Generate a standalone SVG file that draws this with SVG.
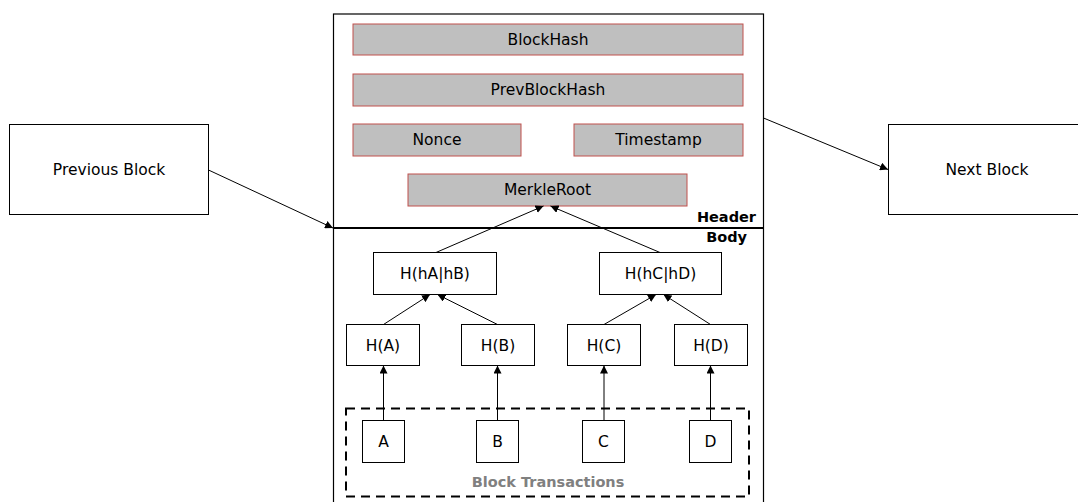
<svg xmlns="http://www.w3.org/2000/svg" width="1078" height="502" viewBox="0 0 1078 502">
<style>
.box{fill:#fff;stroke:#000;stroke-width:1}
.field{fill:#bfbfbf;stroke:#c0504d;stroke-width:1}
.t{font-family:"DejaVu Sans",Verdana,sans-serif;font-size:15.5px;fill:#000;text-anchor:middle}
.b{font-family:"DejaVu Sans",Verdana,sans-serif;font-size:14.5px;font-weight:bold;fill:#000}
.c{stroke:#000;stroke-width:1;fill:none;marker-end:url(#ah)}
</style>
<defs>
<marker id="ah" viewBox="0 0 10 10" refX="10" refY="5" markerWidth="8" markerHeight="8" markerUnits="userSpaceOnUse" orient="auto">
<path d="M0,0 L10,5 L0,10 z" fill="#000"/>
</marker>
</defs>
<rect width="1078" height="502" fill="#fff"/>
<g id="block">
<rect x="333.5" y="14" width="430" height="500" fill="#fff" stroke="#000" stroke-width="1.2"/>
<line x1="333" y1="228" x2="764" y2="228" stroke="#000" stroke-width="2.2"/>
<text class="b" x="756" y="222" text-anchor="end">Header</text>
<text class="b" x="747" y="242" text-anchor="end">Body</text>
</g>
<g id="blockhash"><rect class="field" x="353" y="24" width="390" height="31"/><text class="t" x="548" y="45">BlockHash</text></g>
<g id="prevblockhash"><rect class="field" x="353" y="74" width="390" height="32"/><text class="t" x="548" y="95">PrevBlockHash</text></g>
<g id="nonce"><rect class="field" x="353" y="124" width="168" height="32"/><text class="t" x="437" y="145">Nonce</text></g>
<g id="timestamp"><rect class="field" x="574" y="124" width="169" height="32"/><text class="t" x="658.5" y="145">Timestamp</text></g>
<g id="merkleroot"><rect class="field" x="408" y="174" width="279" height="32"/><text class="t" x="547.5" y="195">MerkleRoot</text></g>
<g id="previous-block"><rect class="box" x="9.5" y="124.5" width="199" height="90"/><text class="t" x="109" y="175">Previous Block</text></g>
<g id="next-block"><rect class="box" x="888.5" y="124.5" width="200" height="90"/><text class="t" x="987" y="175">Next Block</text></g>
<g id="hab"><rect class="box" x="373.5" y="252.5" width="123" height="42"/><text class="t" x="435" y="279">H(hA|hB)</text></g>
<g id="hcd"><rect class="box" x="599.5" y="252.5" width="122" height="42"/><text class="t" x="660.5" y="279">H(hC|hD)</text></g>
<g id="ha"><rect class="box" x="346.5" y="324.5" width="73" height="41"/><text class="t" x="383" y="351">H(A)</text></g>
<g id="hb"><rect class="box" x="461.5" y="324.5" width="73" height="41"/><text class="t" x="498" y="351">H(B)</text></g>
<g id="hc"><rect class="box" x="567.5" y="324.5" width="73" height="41"/><text class="t" x="604" y="351">H(C)</text></g>
<g id="hd"><rect class="box" x="674.5" y="324.5" width="73" height="41"/><text class="t" x="711" y="351">H(D)</text></g>
<g id="block-transactions">
<rect x="346" y="408.5" width="403" height="88" fill="none" stroke="#000" stroke-width="2" stroke-dasharray="9,6"/>
<text class="b" x="548" y="487" text-anchor="middle" fill="#808080" style="fill:#808080">Block Transactions</text>
</g>
<g id="a"><rect class="box" x="362.5" y="420.5" width="42" height="42"/><text class="t" x="383.5" y="447">A</text></g>
<g id="b"><rect class="box" x="476.5" y="420.5" width="42" height="42"/><text class="t" x="497.5" y="447">B</text></g>
<g id="c"><rect class="box" x="582.5" y="420.5" width="42" height="42"/><text class="t" x="603.5" y="447">C</text></g>
<g id="d"><rect class="box" x="689.5" y="420.5" width="42" height="42"/><text class="t" x="710.5" y="447">D</text></g>
<g id="connectors">
<line class="c" x1="208.5" y1="170" x2="333" y2="228"/>
<line class="c" x1="763.5" y1="118" x2="888" y2="169.5"/>
<line class="c" x1="436" y1="252.5" x2="543.5" y2="206"/>
<line class="c" x1="660" y1="252.5" x2="550.5" y2="206"/>
<line class="c" x1="383.5" y1="324.5" x2="430" y2="294.5"/>
<line class="c" x1="497.5" y1="324.5" x2="437.5" y2="294.5"/>
<line class="c" x1="604" y1="324.5" x2="656" y2="294.5"/>
<line class="c" x1="710.5" y1="324.5" x2="663.5" y2="294.5"/>
<line class="c" x1="383.5" y1="420.5" x2="383.5" y2="365.5"/>
<line class="c" x1="497.5" y1="420.5" x2="497.5" y2="365.5"/>
<line class="c" x1="604" y1="420.5" x2="604" y2="365.5"/>
<line class="c" x1="710.5" y1="420.5" x2="710.5" y2="365.5"/>
</g>
</svg>
